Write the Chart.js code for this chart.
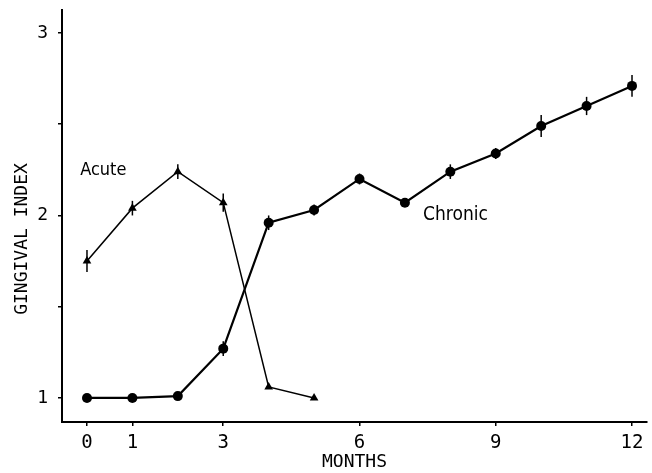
<!DOCTYPE html>
<html>
<head>
<meta charset="utf-8">
<script src="https://cdn.jsdelivr.net/npm/chart.js@4.4.1/dist/chart.umd.min.js"></script>
<style>
  html, body { margin: 0; padding: 0; background: #fff; }
  #wrap { width: 652px; height: 473px; }
</style>
</head>
<body>
<div id="wrap"><canvas id="gi" width="652" height="473"></canvas></div>
<script>
    // months (x) and gingival index values
    const months = [0, 1, 2, 3, 4, 5, 6, 7, 8, 9, 10, 11, 12];
    const acuteMonths = [0, 1, 2, 3, 4, 5];
    const acuteIndex = [1.75, 2.04, 2.24, 2.07, 1.06, 1.0];
    const acuteErr = [0.06, 0.04, 0.04, 0.05, 0.01, 0.0];
    const chronicIndex = [1.0, 1.0, 1.01, 1.27, 1.96, 2.03, 2.20, 2.07, 2.24, 2.34, 2.49, 2.60, 2.71];
    const chronicErr = [0.01, 0.01, 0.01, 0.04, 0.04, 0.03, 0.03, 0.02, 0.04, 0.03, 0.06, 0.05, 0.06];
    const xTicks = [0, 1, 3, 6, 9, 12];
    const yTicks = [1, 1.5, 2, 2.5, 3];

    const FONT = '"DejaVu Sans Mono", monospace';

    const toPoints = (xs, ys) => xs.map((x, i) => ({x: x, y: ys[i]}));

    // vertical error bars + series labels
    const extras = {
        id: 'extras',
        afterDatasetsDraw(chart) {
            const c = chart.ctx;
            const ys = chart.scales.y;
            const errs = [acuteErr, chronicErr];
            c.save();
            c.strokeStyle = '#000';
            c.lineWidth = 1.5;
            chart.data.datasets.forEach((ds, di) => {
                const meta = chart.getDatasetMeta(di);
                meta.data.forEach((pt, i) => {
                    const v = ds.data[i].y, e = errs[di][i];
                    if (!e) return;
                    c.beginPath();
                    c.moveTo(pt.x, ys.getPixelForValue(v - e));
                    c.lineTo(pt.x, ys.getPixelForValue(v + e));
                    c.stroke();
                });
            });
            const xs = chart.scales.x;
            c.fillStyle = '#000';
            c.textBaseline = 'middle';
            c.textAlign = 'left';
            c.font = '18px "DejaVu Sans Condensed", ' + FONT;
            c.fillText('Acute', xs.getPixelForValue(-0.15), ys.getPixelForValue(2.25));
            c.font = '19px "DejaVu Sans Condensed", ' + FONT;
            c.fillText('Chronic', xs.getPixelForValue(7.4), ys.getPixelForValue(2.0));
            // y axis title
            c.font = '18px ' + FONT;
            c.translate(22, 239);
            c.rotate(-Math.PI / 2);
            c.textAlign = 'center';
            c.fillText('GINGIVAL INDEX', 0, 0);
            c.restore();
        }
    };

    const ctx = document.getElementById('gi').getContext('2d');
    const chart = new Chart(ctx, {
        type: 'line',
        data: {
            datasets: [{
                label: 'Acute',
                data: toPoints(acuteMonths, acuteIndex),
                borderColor: '#000',
                backgroundColor: '#000',
                borderWidth: 1.5,
                pointStyle: 'triangle',
                pointRadius: 5,
                pointBorderWidth: 0,
                tension: 0
            }, {
                label: 'Chronic',
                data: toPoints(months, chronicIndex),
                borderColor: '#000',
                backgroundColor: '#000',
                borderWidth: 2.2,
                pointStyle: 'circle',
                pointRadius: 5,
                pointBorderWidth: 0,
                tension: 0
            }]
        },
        options: {
            responsive: false,
            animation: false,
            layout: { padding: { top: 10, right: 0, left: 0, bottom: 0 } },
            plugins: {
                legend: { display: false },
                tooltip: { enabled: false }
            },
            scales: {
                x: {
                    type: 'linear',
                    min: -0.55,
                    max: 12.33,
                    afterBuildTicks: (s) => { s.ticks = xTicks.map(v => ({value: v})); },
                    afterFit: (s) => { s.height = 51; s.paddingLeft = 0; s.paddingRight = 0; },
                    border: { color: '#000', width: 2 },
                    grid: { drawOnChartArea: false, color: '#000', tickLength: 4, lineWidth: 1.5 },
                    ticks: { color: '#000', padding: 6, maxRotation: 0, font: { family: FONT, size: 19 } },
                    title: { display: true, text: 'MONTHS', color: '#000', padding: { top: 0, bottom: 0 },
                        font: { family: FONT, size: 18 } }
                },
                y: {
                    min: 0.868,
                    max: 3.126,
                    afterBuildTicks: (s) => { s.ticks = yTicks.map(v => ({value: v})); },
                    afterFit: (s) => { s.width = 62; s.paddingTop = 0; s.paddingBottom = 0; },
                    border: { color: '#000', width: 2 },
                    grid: { drawOnChartArea: false, color: '#000', tickLength: 4, lineWidth: 1.5 },
                    ticks: {
                        color: '#000', padding: 10,
                        font: { family: FONT, size: 18 },
                        callback: (v) => Number.isInteger(v) ? String(v) : ''
                    }
                }
            }
        },
        plugins: [extras]
    });
</script>
</body>
</html>
